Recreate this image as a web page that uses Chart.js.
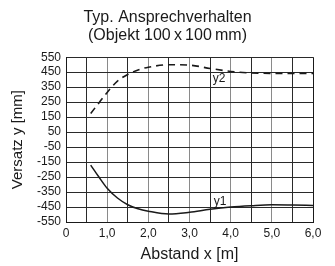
<!DOCTYPE html>
<html lang="de">
<head>
    <meta charset="UTF-8">
    <title>Typ. Ansprechverhalten</title>
    <style>
        body {
            margin: 0;
            background: #fff;
        }
        #wrap {
            width: 335px;
            height: 266px;
        }
    </style>
</head>
<body>
    <div id="wrap"><canvas id="chart"></canvas></div>

    <script src="https://cdn.jsdelivr.net/npm/chart.js"></script>
    <script>
        // Werte
        const abstand = [0.6, 0.8, 1.0, 1.25, 1.5, 1.75, 2.0, 2.5, 3.0, 3.5, 4.0, 4.5, 5.0, 5.5, 6.0];
        const y1 = [-170, -250, -325, -390, -435, -462, -478, -497, -485, -465, -450, -441, -435, -437, -440];
        const y2 = [175, 245, 315, 390, 435, 465, 483, 500, 497, 475, 455, 445, 442, 442, 442];
        const yTicks = [550, 450, 350, 250, 150, 50, -50, -150, -250, -350, -450, -550];
        const xTickLabels = ['0', '1,0', '2,0', '3,0', '4,0', '5,0', '6,0'];

        const ink = '#1a1a1a';
        const font = 'Liberation Sans, Arial, sans-serif';

        function points(ys) {
            return abstand.map((x, i) => ({ x: x, y: ys[i] }));
        }

        // Beschriftung y1 / y2 direkt an den Kurven
        const curveLabels = {
            id: 'curveLabels',
            afterDatasetsDraw(chart) {
                const { ctx, scales } = chart;
                const xs = scales.x, ys = scales.y;
                ctx.save();
                ctx.font = '12px ' + font;
                ctx.textAlign = 'center';

                // y2 sitzt in einem weissen Kaestchen unter der 450-Linie
                const x2 = xs.getPixelForValue(3.72);
                const t2 = ys.getPixelForValue(450);
                ctx.fillStyle = '#fff';
                ctx.fillRect(x2 - 8, t2 + 1, 16, 11);
                ctx.fillStyle = ink;
                ctx.textBaseline = 'top';
                ctx.fillText('y2', x2, t2 + 1);

                const x1 = xs.getPixelForValue(3.74);
                const b1 = ys.getPixelForValue(-450);
                ctx.textBaseline = 'bottom';
                ctx.fillText('y1', x1, b1 + 1);
                ctx.restore();
            }
        };

        new Chart(document.getElementById('chart'), {
            type: 'line',
            data: {
                datasets: [
                    {
                        label: 'y1',
                        data: points(y1),
                        borderColor: ink,
                        borderWidth: 1.5,
                        pointRadius: 0,
                        cubicInterpolationMode: 'monotone'
                    },
                    {
                        label: 'y2',
                        data: points(y2),
                        borderColor: ink,
                        borderWidth: 1.6,
                        borderDash: [7, 5],
                        pointRadius: 0,
                        cubicInterpolationMode: 'monotone'
                    }
                ]
            },
            options: {
                responsive: true,
                maintainAspectRatio: false,
                animation: false,
                layout: { padding: 0 },
                plugins: {
                    legend: { display: false },
                    tooltip: { enabled: false },
                    title: {
                        display: true,
                        text: ['Typ. Ansprechverhalten', '(Objekt 100\u2009x\u2009100\u2009mm)'],
                        color: ink,
                        font: { family: font, size: 16, weight: 'normal', lineHeight: 1.1 },
                        padding: { top: 9, bottom: 13 }
                    }
                },
                scales: {
                    x: {
                        type: 'linear',
                        min: 0,
                        max: 6,
                        afterFit: s => { s.height = 44; },
                        ticks: {
                            stepSize: 0.5,
                            color: ink,
                            font: { family: font, size: 12 },
                            padding: 4,
                            maxRotation: 0,
                            autoSkip: false,
                            callback: v => (v % 1 === 0 ? xTickLabels[v] : '')
                        },
                        grid: {
                            drawTicks: false,
                            lineWidth: 1,
                            color: c => {
                                const v = c.tick ? c.tick.value : 0;
                                if (v === 0 || v === 6) return ink;
                                return v % 1 === 0 ? '#8a8a8a' : '#2a2a2a';
                            }
                        },
                        border: { color: ink, width: 1 },
                        title: {
                            display: true,
                            text: 'Abstand x [m]',
                            color: ink,
                            font: { family: font, size: 16 },
                            padding: { top: 2, bottom: 2 }
                        }
                    },
                    y: {
                        type: 'linear',
                        min: -550,
                        max: 550,
                        afterFit: s => { s.width = 66; },
                        afterBuildTicks: s => { s.ticks = yTicks.map(v => ({ value: v })); },
                        ticks: {
                            color: ink,
                            font: { family: font, size: 12 },
                            padding: 5,
                            autoSkip: false
                        },
                        grid: {
                            drawTicks: false,
                            lineWidth: 1,
                            color: '#2a2a2a'
                        },
                        border: { color: ink, width: 1 },
                        title: {
                            display: true,
                            text: 'Versatz y [mm]',
                            color: ink,
                            font: { family: font, size: 15 },
                            padding: { top: 9, bottom: 0 }
                        }
                    },
                    // leere rechte Achse als Rand, damit der Titel mittig bleibt
                    rechts: {
                        type: 'linear',
                        position: 'right',
                        display: true,
                        afterFit: s => { s.width = 22; },
                        ticks: { display: false },
                        grid: { display: false, drawTicks: false },
                        border: { display: false }
                    }
                }
            },
            plugins: [curveLabels]
        });
    </script>
</body>
</html>
